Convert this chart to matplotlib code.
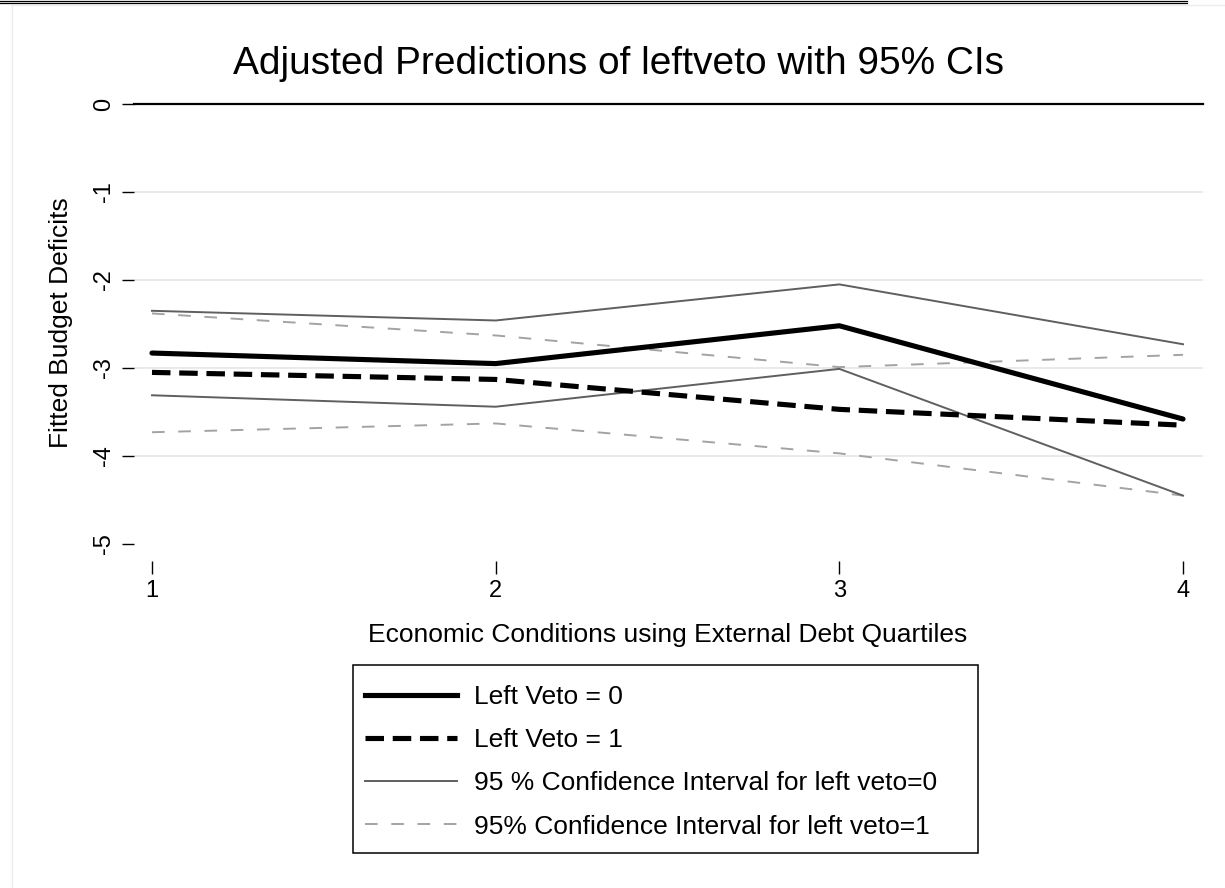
import matplotlib.pyplot as plt
from matplotlib.lines import Line2D
from matplotlib.patches import Rectangle

plt.rcParams['font.family'] = ['Liberation Sans', 'DejaVu Sans']

# External debt quartiles and fitted budget deficits
quartiles = [1, 2, 3, 4]
veto0_fit = [-2.83, -2.95, -2.52, -3.58]
veto1_fit = [-3.05, -3.13, -3.47, -3.65]
veto0_ci_hi = [-2.35, -2.46, -2.05, -2.73]
veto0_ci_lo = [-3.31, -3.44, -3.01, -4.45]
veto1_ci_hi = [-2.38, -2.63, -2.99, -2.85]
veto1_ci_lo = [-3.73, -3.63, -3.97, -4.45]
y_ticks = [0, -1, -2, -3, -4, -5]

W, H = 1225, 888
fig = plt.figure(figsize=(W / 100, H / 100), dpi=100)

# page edges around the graph
fig.add_artist(Line2D([0, 1187 / W], [1 - 1 / H] * 2, color='black', lw=0.9))
fig.add_artist(Line2D([0, 1187 / W], [1 - 3.5 / H] * 2, color='black', lw=0.9))
fig.add_artist(Line2D([11 / W, 1], [1 - 5.5 / H] * 2, color='#ececec', lw=1))
fig.add_artist(Line2D([11.5 / W] * 2, [0, 1 - 5.5 / H], color='#ececec', lw=1))

ax = fig.add_axes([134 / W, 1 - 561 / H, (1203 - 134) / W, (561 - 104) / H])
ax.set_xlim(1 - 18 / 344, 4 + 20 / 344)
ax.set_ylim(-5 - 17 / 88, 0)
for s in ax.spines.values():
    s.set_visible(False)

for t in y_ticks[1:-1]:
    ax.axhline(t, color='#e8e8e8', lw=1.3, zorder=1)
ax.axhline(0, color='black', lw=1.6, zorder=2, clip_on=False)

gray_dash = (0, (6.5, 7))
ax.plot(quartiles, veto0_fit, color='black', lw=3.7, solid_capstyle='round',
        solid_joinstyle='round', zorder=5)
ax.plot(quartiles, veto1_fit, color='black', lw=3.7, dashes=(3.6, 1.7),
        dash_capstyle='butt', zorder=5)
ax.plot(quartiles, veto0_ci_hi, color='#5f5f5f', lw=1.4, zorder=4)
ax.plot(quartiles, veto0_ci_lo, color='#5f5f5f', lw=1.4, zorder=4)
ax.plot(quartiles, veto1_ci_hi, color='#a3a3a3', lw=1.4, linestyle=gray_dash, zorder=3)
ax.plot(quartiles, veto1_ci_lo, color='#a3a3a3', lw=1.4, linestyle=gray_dash, zorder=3)

ax.set_yticks(y_ticks)
ax.set_yticklabels([str(v) for v in y_ticks], rotation=90, va='center', fontsize=17)
ax.set_xticks(quartiles)
ax.set_xticklabels([str(v) for v in quartiles], fontsize=17)
ax.tick_params(axis='y', length=8.5, width=1, pad=5, color='black')
ax.tick_params(axis='x', length=9, width=1, pad=5, color='black')

fig.text(618 / W, 1 - 64 / H, 'Adjusted Predictions of leftveto with 95% CIs',
         ha='center', va='center', fontsize=28)
fig.text(61 / W, 1 - 323 / H, 'Fitted Budget Deficits', rotation=90,
         ha='center', va='center', fontsize=19)
fig.text(668 / W, 1 - 635 / H, 'Economic Conditions using External Debt Quartiles',
         ha='center', va='center', fontsize=19)

handles = [
    Line2D([], [], color='black', lw=3.7),
    Line2D([], [], color='black', lw=3.7, dashes=(3.6, 1.7), dash_capstyle='butt'),
    Line2D([], [], color='#5f5f5f', lw=1.4),
    Line2D([], [], color='#a3a3a3', lw=1.4, linestyle=gray_dash),
]
labels = ['Left Veto = 0', 'Left Veto = 1',
          '95 % Confidence Interval for left veto=0',
          '95% Confidence Interval for left veto=1']
fig.legend(handles, labels, loc='upper left',
           bbox_to_anchor=(353 / W, 1 - 673 / H), frameon=False,
           fontsize=19, handlelength=3.5, handletextpad=0.64,
           labelspacing=0.73, borderpad=0.45, borderaxespad=0)
fig.add_artist(Rectangle((353 / W, 1 - 853 / H), (978 - 353) / W, (853 - 665) / H,
                         transform=fig.transFigure, fill=False,
                         edgecolor='black', lw=1.1))

fig.savefig('out.png', dpi=100, facecolor='white')
